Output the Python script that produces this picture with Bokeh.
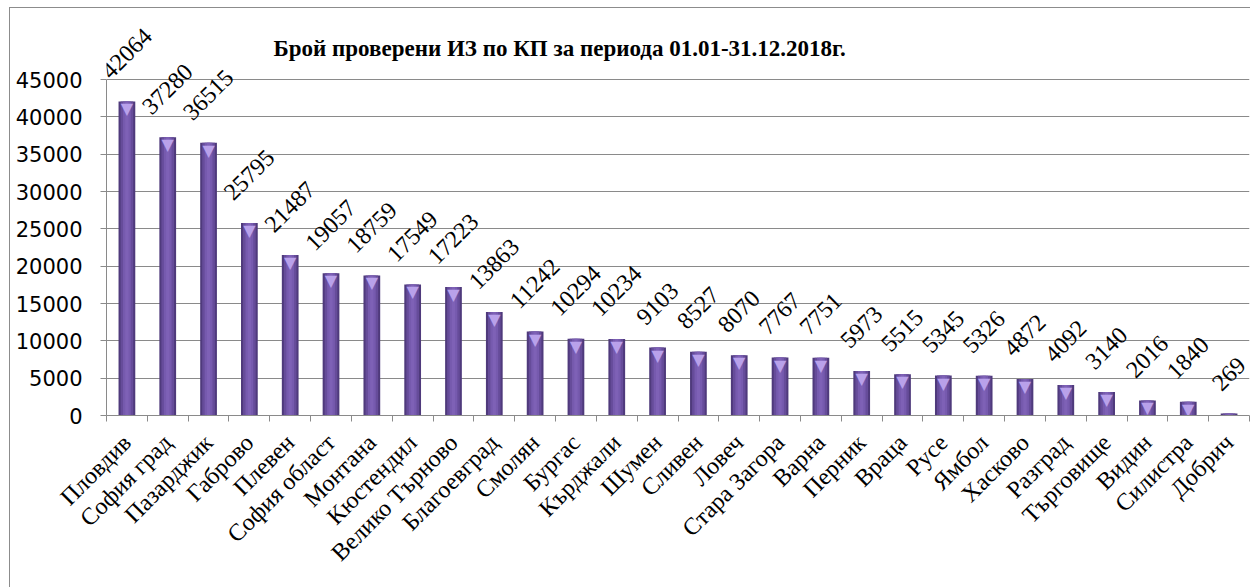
import math
from bokeh.plotting import figure
from bokeh.models import (Range1d, FixedTicker, ColumnDataSource, Label)
from bokeh.core.properties import value
from bokeh.embed import file_html
from bokeh.resources import INLINE

regions = ["Пловдив", "София град", "Пазарджик", "Габрово", "Плевен", "София област",
           "Монтана", "Кюстендил", "Велико Търново", "Благоевград", "Смолян", "Бургас",
           "Кърджали", "Шумен", "Сливен", "Ловеч", "Стара Загора", "Варна", "Перник",
           "Враца", "Русе", "Ямбол", "Хасково", "Разград", "Търговище", "Видин",
           "Силистра", "Добрич"]
counts = [42064, 37280, 36515, 25795, 21487, 19057, 18759, 17549, 17223, 13863,
          11242, 10294, 10234, 9103, 8527, 8070, 7767, 7751, 5973, 5515, 5345,
          5326, 4872, 4092, 3140, 2016, 1840, 269]
y_ticks = [0, 5000, 10000, 15000, 20000, 25000, 30000, 35000, 40000, 45000]
title_text = "Брой проверени ИЗ по КП  за периода 01.01-31.12.2018г."

WIN_W, WIN_H = 1251, 588
ML, MT, BW = 9, 7, 1          # page offset of the chart border, border width
n = len(regions)
xs = [i + 0.5 for i in range(n)]

# canvas origin on the page
cx0, cy0 = ML + BW, MT + BW
W, H = WIN_W - cx0, WIN_H - cy0

# frame geometry (page pixels)
frame_left, frame_right, frame_top, frame_bottom = 106, 1249, 10, 415
px_per_unit = (415 - 79) / 45000.0
y_end = 45000 + (79 - frame_top) / px_per_unit

p = figure(width=W, height=H, output_backend="svg", toolbar_location=None,
           x_range=Range1d(0, n), y_range=Range1d(0, y_end),
           min_border_left=frame_left - cx0, min_border_right=cx0 + W - frame_right,
           min_border_top=frame_top - cy0, min_border_bottom=cy0 + H - frame_bottom)
p.margin = (MT, 0, 0, ML)
p.styles = {"border-left": f"{BW}px solid #8c8c8c", "border-top": f"{BW}px solid #8c8c8c"}
p.outline_line_color = None
p.background_fill_color = "white"
p.border_fill_color = "white"

# grid
p.xgrid.visible = False
p.ygrid.ticker = FixedTicker(ticks=y_ticks)
p.ygrid.grid_line_color = "#8a8a8a"
p.ygrid.grid_line_width = 1
p.ygrid.bounds = (0, 45000)

# y axis
p.yaxis.ticker = FixedTicker(ticks=y_ticks)
p.yaxis.bounds = (0, 45000)
p.yaxis.axis_line_color = "#8a8a8a"
p.yaxis.major_tick_line_color = "#8a8a8a"
p.yaxis.major_tick_out = 6
p.yaxis.major_tick_in = 0
p.yaxis.minor_tick_line_color = None
p.yaxis.major_label_text_font = "DejaVu Sans"
p.yaxis.major_label_text_font_size = "21px"
p.yaxis.major_label_text_color = "black"
p.yaxis.major_label_standoff = 18

# x axis
p.xaxis.ticker = FixedTicker(ticks=xs, minor_ticks=list(range(n + 1)))
p.xaxis.major_label_overrides = {x: r for x, r in zip(xs, regions)}
p.xaxis.axis_line_color = "#8a8a8a"
p.xaxis.major_tick_line_color = None
p.xaxis.minor_tick_line_color = "#8a8a8a"
p.xaxis.minor_tick_out = 6
p.xaxis.minor_tick_in = 0
p.xaxis.major_label_orientation = math.pi / 4
p.xaxis.major_label_text_font = "Liberation Serif"
p.xaxis.major_label_text_font_size = "24px"
p.xaxis.major_label_text_color = "black"
p.xaxis.major_label_standoff = 17

src = ColumnDataSource(dict(x=xs, top=counts, label=[str(c) for c in counts]))

# cylinder-like bars (layered shading)
p.vbar(x="x", top="top", bottom=0, width=0.41, source=src,
       fill_color="#4f3a7c", line_color=None)
p.vbar(x="x", top="top", bottom=0, width=0.31, source=src,
       fill_color="#664c9a", line_color=None)
p.vbar(x="x", top="top", bottom=0, width=0.19, source=src,
       fill_color="#765aae", line_color=None)
p.vbar(x="x", top="top", bottom=0, width=0.08, source=src,
       fill_color="#7e61b6", line_color=None)
# light bevel cap at the bar top
cap_src = ColumnDataSource(dict(x=[x for x, c in zip(xs, counts) if c > 1000],
                                y=[c for c in counts if c > 1000]))
p.text(x="x", y="y", text=value("▼"), source=cap_src, text_align="center",
       text_baseline="top", text_font=value("DejaVu Sans"), text_font_size="16px",
       text_color="#b9a1ea", y_offset=-2)

# data labels, rotated 45 degrees above each bar
fs = 24
offs = []
for c in counts:
    L = len(str(c)) * 0.5 * fs
    h = 0.66 * fs
    offs.append(-(21 + (L + h) / (2 * math.sqrt(2))))
src.data["yoff"] = offs
p.text(x="x", y="top", text="label", source=src, angle=math.pi / 4,
       text_align="center", text_baseline="middle", y_offset="yoff",
       text_font=value("Liberation Serif"), text_font_size=f"{fs}px",
       text_color="black")

# title (screen units relative to the frame)
p.add_layout(Label(x=562 - frame_left, y=frame_bottom - 48,
                   x_units="screen", y_units="screen",
                   text=title_text, text_align="center", text_baseline="middle",
                   text_font="Liberation Serif", text_font_style="bold",
                   text_font_size="23px", text_color="black"))

open("out.html", "w").write(file_html(p, INLINE))
